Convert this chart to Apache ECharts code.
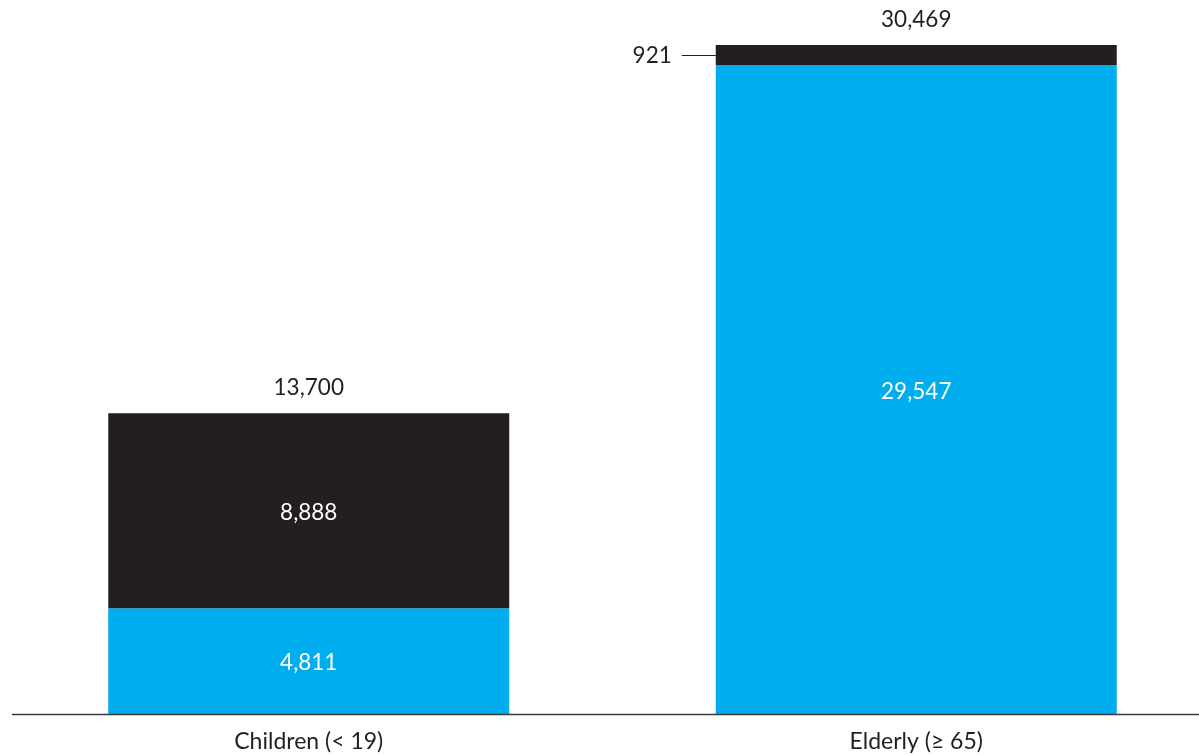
<!DOCTYPE html>
<html>
<head>
<meta charset="utf-8">
<script src="https://cdn.jsdelivr.net/npm/echarts@6/dist/echarts.min.js"></script>
<style>
  html, body { margin: 0; padding: 0; background: #fff; }
  #chart { width: 1199px; height: 755px; }
</style>
</head>
<body>
<div id="chart"></div>
<script>
const categories = ['Children (< 19)', 'Elderly (≥ 65)'];
const blueValues = [4811, 29547];
const darkValues = [8888, 921];
const totals = [13700, 30469];

const BLUE = '#00adef';
const DARK = '#231f20';
const FONT = 'Lato';
const BAR_W = 401;

const chart = echarts.init(document.getElementById('chart'));

const fmt = v => v.toLocaleString('en-US');

chart.setOption({
  animation: false,
  grid: { left: 5, width: 1215, top: 45, bottom: 41, containLabel: false, outerBoundsMode: 'none' },
  xAxis: {
    type: 'category',
    data: categories,
    axisLine: { show: false },
    axisTick: { show: false },
    axisLabel: { color: '#231f20', fontFamily: FONT, fontSize: 23, margin: 16 }
  },
  yAxis: {
    type: 'value',
    min: 0,
    max: 30469,
    show: false,
    splitLine: { show: false }
  },
  series: [
    {
      name: 'Total',
      type: 'bar',
      data: totals,
      barWidth: BAR_W,
      barGap: '-100%',
      z: 1,
      itemStyle: { color: 'rgba(0,0,0,0)' },
      label: {
        show: true,
        position: 'top',
        distance: 14,
        color: '#231f20',
        fontFamily: FONT,
        fontSize: 22.5,
        formatter: p => fmt(p.value)
      }
    },
    {
      name: 'Blue',
      type: 'bar',
      stack: 'all',
      data: blueValues,
      barWidth: BAR_W,
      z: 2,
      itemStyle: { color: BLUE },
      label: {
        show: true,
        position: 'inside',
        offset: [0, 2],
        color: '#fff',
        fontFamily: FONT,
        fontSize: 22.5,
        formatter: p => fmt(p.value)
      }
    },
    {
      name: 'Dark',
      type: 'bar',
      stack: 'all',
      data: darkValues.map((v, i) => i === 1 ? {
        value: v,
        label: {
          position: 'left',
          distance: 44,
          offset: [0, 1],
          color: '#231f20'
        }
      } : v),
      barWidth: BAR_W,
      z: 2,
      itemStyle: { color: DARK },
      label: {
        show: true,
        position: 'inside',
        offset: [0, 2],
        color: '#fff',
        fontFamily: FONT,
        fontSize: 22.5,
        formatter: p => fmt(p.value)
      }
    }
  ]
});

// baseline under the bars and leader line for the small segment
function drawGuides() {
  const y0 = chart.convertToPixel({ gridIndex: 0 }, [0, 0])[1];
  const seg = chart.convertToPixel({ gridIndex: 0 }, [1, blueValues[1] + darkValues[1] / 2]);
  const barLeft = seg[0] - BAR_W / 2;
  chart.setOption({
    graphic: [
      {
        type: 'line',
        shape: { x1: 12, y1: y0 + 0.5, x2: 1199, y2: y0 + 0.5 },
        style: { stroke: '#3a3a3a', lineWidth: 1.5 },
        z: 10
      },
      {
        type: 'line',
        shape: { x1: barLeft - 34, y1: Math.round(seg[1]) + 0.5, x2: barLeft, y2: Math.round(seg[1]) + 0.5 },
        style: { stroke: '#231f20', lineWidth: 1 },
        z: 10
      }
    ]
  });
}
drawGuides();
</script>
</body>
</html>
